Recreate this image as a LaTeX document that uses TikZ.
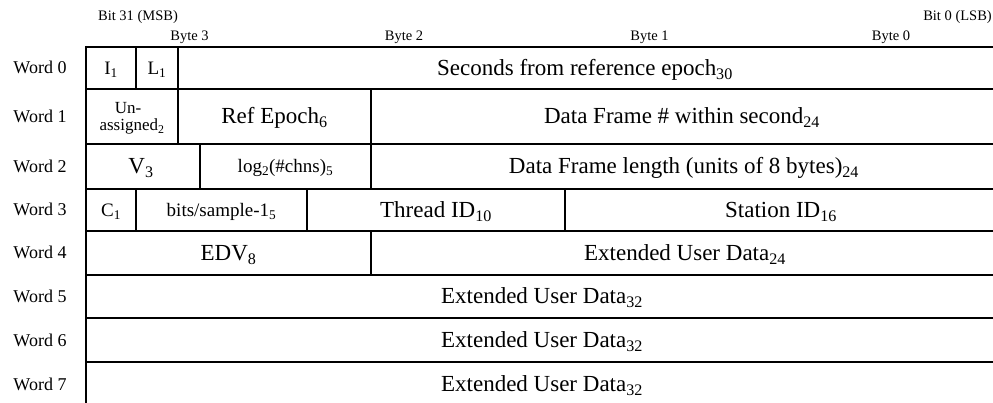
\documentclass[tikz,border=0pt]{standalone}
\usepackage{fontspec}
\setmainfont{Liberation Serif}
\begin{document}
\begin{tikzpicture}[x=1pt,y=-1pt,
  hline/.style={line width=2pt},
  vline/.style={line width=1.3pt},
  big/.style={font=\fontsize{23}{25}\selectfont, inner sep=0pt, anchor=base},
  mid/.style={font=\fontsize{19}{21}\selectfont, inner sep=0pt, anchor=base},
  small/.style={font=\fontsize{17}{17}\selectfont, inner sep=0pt, anchor=base},
  word/.style={font=\fontsize{18}{20}\selectfont, inner sep=0pt, anchor=base},
  hdr/.style={font=\fontsize{14.5}{16}\selectfont, inner sep=0pt, anchor=base}]
\useasboundingbox (0,0) rectangle (993,403);
% grid lines
\foreach \y in {47,89,144,189,231,275,318,362}
  \draw[hline] (86,\y) -- (993,\y);
\draw[vline] (86,46) -- (86,404);
\draw[vline] (136,47) -- (136,89);
\draw[vline] (178,47) -- (178,144);
\draw[vline] (371,89) -- (371,189);
\draw[vline] (200,144) -- (200,189);
\draw[vline] (136,189) -- (136,231);
\draw[vline] (307,189) -- (307,231);
\draw[vline] (565,189) -- (565,231);
\draw[vline] (371,231) -- (371,275);
% header
\node[hdr] (msb) at (138,21) {Bit 31 (MSB)};
\node[hdr] (lsb) at (957.5,21) {Bit 0 (LSB)};
\node[hdr] (b3) at (189.5,41) {Byte 3};
\node[hdr] (b2) at (404,41) {Byte 2};
\node[hdr] (b1) at (649.5,41) {Byte 1};
\node[hdr] (b0) at (891,41) {Byte 0};
% word labels
\node[word] (w0) at (40,74) {Word 0};
\node[word] (w1) at (40,122.5) {Word 1};
\node[word] (w2) at (40,172.5) {Word 2};
\node[word] (w3) at (40,216) {Word 3};
\node[word] (w4) at (40,259) {Word 4};
\node[word] (w5) at (40,302.5) {Word 5};
\node[word] (w6) at (40,346) {Word 6};
\node[word] (w7) at (40,390) {Word 7};
% word 0
\node[mid] (i) at (111,74.5) {I\textsubscript{1}};
\node[mid] (l) at (157,74.5) {L\textsubscript{1}};
\node[big] (sec) at (585,76) {Seconds from reference epoch\textsubscript{30}};
% word 1
\node[small] (un) at (128,114) {Un-};
\node[small] (as) at (132,131) {assigned\textsubscript{2}};
\node[big] (ref) at (274.5,124) {Ref Epoch\textsubscript{6}};
\node[big] (dfn) at (682,124) {Data Frame \# within second\textsubscript{24}};
% word 2
\node[big] (v) at (141,174) {V\textsubscript{3}};
\node[mid] (log) at (285.5,173) {log\textsubscript{2}(\#chns)\textsubscript{5}};
\node[big] (dfl) at (684,174) {Data Frame length (units of 8 bytes)\textsubscript{24}};
% word 3
\node[mid] (c) at (111,216.5) {C\textsubscript{1}};
\node[mid] (bps) at (221.5,216.5) {bits/sample-1\textsubscript{5}};
\node[big] (thr) at (436,218) {Thread ID\textsubscript{10}};
\node[big] (sta) at (781,218) {Station ID\textsubscript{16}};
% word 4
\node[big] (edv) at (228.5,261) {EDV\textsubscript{8}};
\node[big] (eud24) at (685,261) {Extended User Data\textsubscript{24}};
% words 5-7
\node[big] (eud5) at (542,304) {Extended User Data\textsubscript{32}};
\node[big] (eud6) at (542,347.5) {Extended User Data\textsubscript{32}};
\node[big] (eud7) at (542,391.5) {Extended User Data\textsubscript{32}};
\end{tikzpicture}
\end{document}
